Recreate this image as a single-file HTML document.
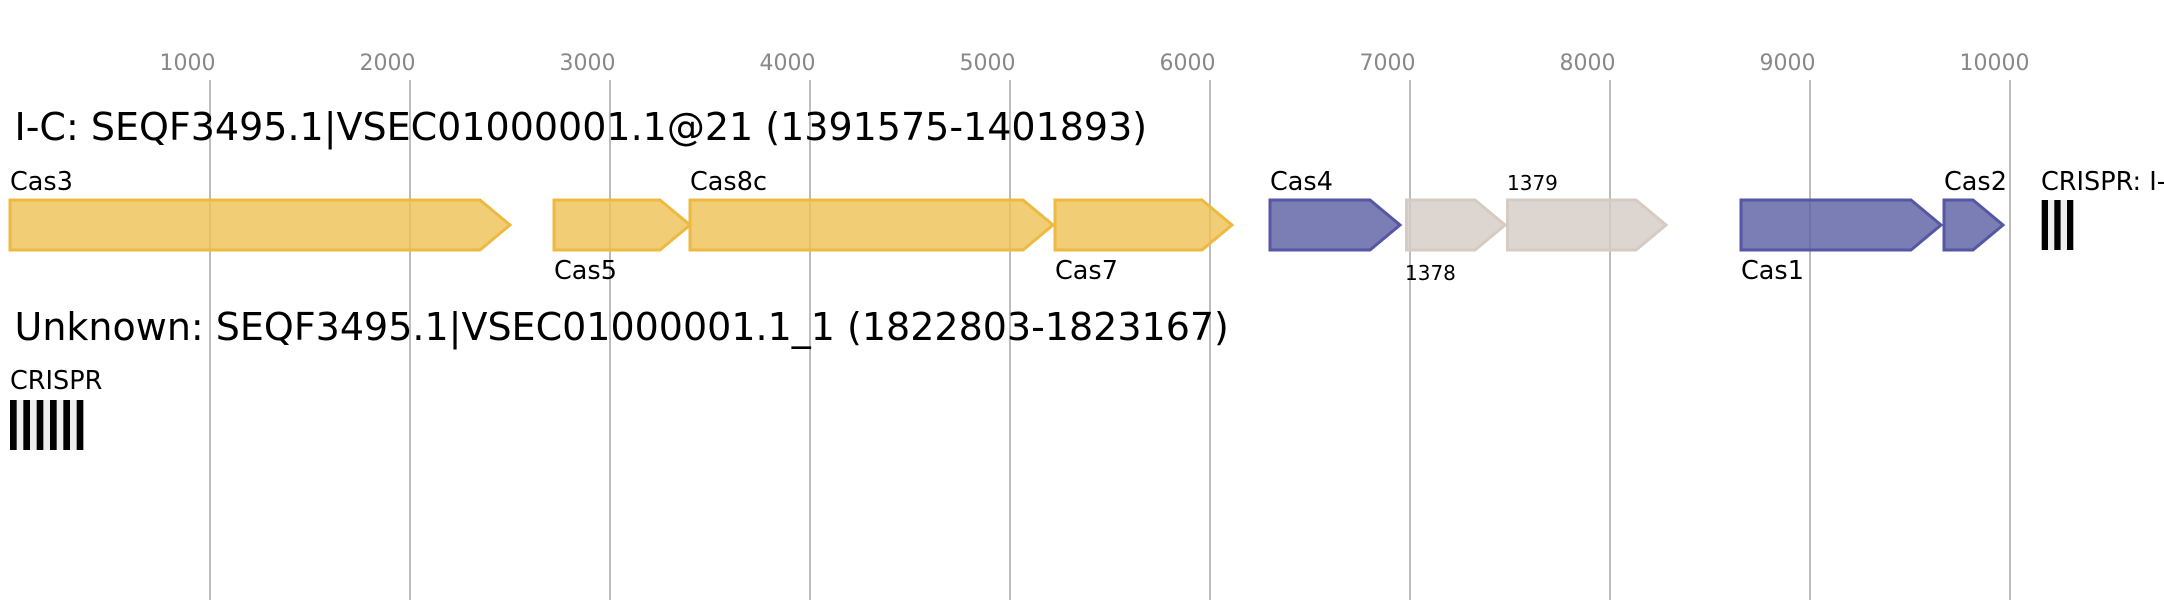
<!DOCTYPE html>
<html>
<head>
<meta charset="utf-8">
<style>
  html, body { margin: 0; padding: 0; background: #ffffff; }
  body { width: 2164px; height: 600px; overflow: hidden; }
  svg { display: block; }
  text { font-family: "DejaVu Sans", "Liberation Sans", sans-serif; }
</style>
</head>
<body>
<svg xmlns="http://www.w3.org/2000/svg" width="2164" height="600" viewBox="0 0 2164 600">
  <rect x="0" y="0" width="2164" height="600" fill="#ffffff"/>

  <!-- grid lines -->
  <g stroke="#bdbdbd" stroke-width="2">
    <line x1="210" y1="80" x2="210" y2="600"/>
    <line x1="410" y1="80" x2="410" y2="600"/>
    <line x1="610" y1="80" x2="610" y2="600"/>
    <line x1="810" y1="80" x2="810" y2="600"/>
    <line x1="1010" y1="80" x2="1010" y2="600"/>
    <line x1="1210" y1="80" x2="1210" y2="600"/>
    <line x1="1410" y1="80" x2="1410" y2="600"/>
    <line x1="1610" y1="80" x2="1610" y2="600"/>
    <line x1="1810" y1="80" x2="1810" y2="600"/>
    <line x1="2010" y1="80" x2="2010" y2="600"/>
  </g>

  <!-- tick labels -->
  <g fill="#888888" font-size="22">
    <text x="159.5" y="70">1000</text>
    <text x="359.5" y="70">2000</text>
    <text x="559.5" y="70">3000</text>
    <text x="759.5" y="70">4000</text>
    <text x="959.5" y="70">5000</text>
    <text x="1159.5" y="70">6000</text>
    <text x="1359.5" y="70">7000</text>
    <text x="1559.5" y="70">8000</text>
    <text x="1759.5" y="70">9000</text>
    <text x="1959.5" y="70">10000</text>
  </g>

  <!-- Track 1 title -->
  <text x="14.5" y="140" font-size="38" fill="#000">I-C: SEQF3495.1|VSEC01000001.1@21 (1391575-1401893)</text>

  <!-- Yellow genes -->
  <g fill="#edc052" fill-opacity="0.8" stroke="#eeb940" stroke-width="3" stroke-linejoin="miter">
    <path d="M10,200 L480,200 L510,225 L480,250 L10,250 Z"/>
    <path d="M554,200 L660,200 L690,225 L660,250 L554,250 Z"/>
    <path d="M690,200 L1023,200 L1053,225 L1023,250 L690,250 Z"/>
    <path d="M1055,200 L1202,200 L1232,225 L1202,250 L1055,250 Z"/>
  </g>

  <!-- Purple genes -->
  <g fill="#5a5ca2" fill-opacity="0.8" stroke="#5557a5" stroke-width="3" stroke-linejoin="miter">
    <path d="M1270,200 L1370,200 L1400,225 L1370,250 L1270,250 Z"/>
    <path d="M1741,200 L1911,200 L1941,225 L1911,250 L1741,250 Z"/>
    <path d="M1944,200 L1973,200 L2003,225 L1973,250 L1944,250 Z"/>
  </g>

  <!-- Beige genes -->
  <g fill="#d3cac4" fill-opacity="0.8" stroke="#d5cbc2" stroke-width="3" stroke-linejoin="miter">
    <path d="M1406.5,200 L1475,200 L1505,225 L1475,250 L1406.5,250 Z"/>
    <path d="M1507.5,200 L1636,200 L1666,225 L1636,250 L1507.5,250 Z"/>
  </g>

  <!-- Gene labels track 1 -->
  <g fill="#000" font-size="25.5">
    <text x="10" y="190">Cas3</text>
    <text x="554" y="279">Cas5</text>
    <text x="690" y="190">Cas8c</text>
    <text x="1055" y="279">Cas7</text>
    <text x="1270" y="190">Cas4</text>
    <text x="1741" y="279">Cas1</text>
    <text x="1944" y="190">Cas2</text>
    <text x="2041" y="190">CRISPR: I-C</text>
  </g>
  <g fill="#000" font-size="20">
    <text x="1405" y="280">1378</text>
    <text x="1507" y="190">1379</text>
  </g>

  <!-- CRISPR array track 1 -->
  <rect x="2041.7" y="200" width="31.6" height="50" fill="#eeeeee"/>
  <g fill="#000">
    <rect x="2041.7" y="200" width="6.3" height="50"/>
    <rect x="2054.3" y="200" width="6.3" height="50"/>
    <rect x="2067" y="200" width="6.3" height="50"/>
  </g>

  <!-- Track 2 title -->
  <text x="14.5" y="340" font-size="38" fill="#000">Unknown: SEQF3495.1|VSEC01000001.1_1 (1822803-1823167)</text>

  <text x="10" y="389" font-size="25.5" fill="#000">CRISPR</text>

  <!-- CRISPR array track 2 -->
  <rect x="10" y="400" width="73.3" height="50" fill="#eeeeee"/>
  <g fill="#000">
    <rect x="10" y="400" width="6.67" height="50"/>
    <rect x="23.33" y="400" width="6.67" height="50"/>
    <rect x="36.67" y="400" width="6.67" height="50"/>
    <rect x="50" y="400" width="6.67" height="50"/>
    <rect x="63.33" y="400" width="6.67" height="50"/>
    <rect x="76.67" y="400" width="6.67" height="50"/>
  </g>
</svg>
</body>
</html>
